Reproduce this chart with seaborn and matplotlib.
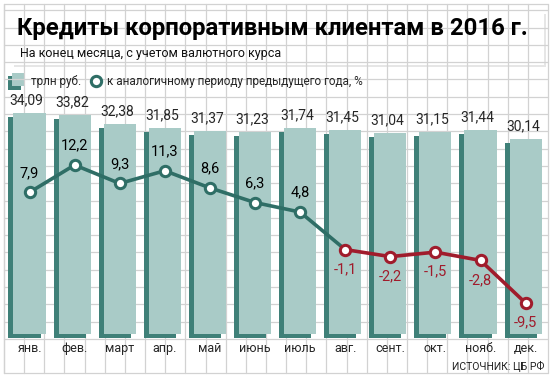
import matplotlib
matplotlib.use("Agg")
import matplotlib.pyplot as plt
from matplotlib.patches import Rectangle
import seaborn as sns

months = ["янв.", "фев.", "март", "апр.", "май", "июнь", "июль",
          "авг.", "сент.", "окт.", "нояб.", "дек."]
credits = [34.09, 33.82, 32.38, 31.85, 31.37, 31.23, 31.74,
           31.45, 31.04, 31.15, 31.44, 30.14]
growth = [7.9, 12.2, 9.3, 11.3, 8.6, 6.3, 4.8, -1.1, -2.2, -1.5, -2.8, -9.5]

face = "#a9cbc7"
side = "#3f8078"
teal = "#2f6e66"
red = "#a01c2c"
gridc = "#d2d2d2"

sns.set_style("white")
plt.rcParams["font.family"] = ["Roboto", "DejaVu Sans"]

W, H = 555, 380
fig = plt.figure(figsize=(W / 100, H / 100), dpi=100)

# background: graph paper + title box (pixel coords)
bg = fig.add_axes([0, 0, 1, 1])
bg.set_xlim(0, W)
bg.set_ylim(H, 0)
bg.axis("off")
bg.set_zorder(0)
x = 4.0
while x < 549:
    bg.plot([x, x], [4, 373], color=gridc, lw=0.9)
    x += 20.15
y = 339.0
while y > 4:
    bg.plot([4, 548], [y, y], color=gridc, lw=0.9)
    y -= 17.3
bg.plot([4, 4], [4, 373], color=gridc, lw=0.9)
bg.plot([4, 548], [4, 4], color=gridc, lw=0.9)
bg.plot([4, 548], [373, 373], color=gridc, lw=0.9)
bg.add_patch(Rectangle((14, 14), 532, 53, facecolor="#e6e6e6", edgecolor="none"))
bg.add_patch(Rectangle((12, 12), 532, 53, facecolor="white", edgecolor="none"))

bg.text(17, 29, "Кредиты корпоративным клиентам в 2016 г.", fontsize=17.2,
        fontweight="bold", va="center", ha="left", color="black")
bg.text(20, 54, "На конец месяца, с учетом валютного курса", fontsize=9,
        va="center", ha="left", color="#111111")

# legend
bg.add_patch(Rectangle((8, 76), 13, 14, facecolor=side, edgecolor="none", lw=0))
bg.add_patch(Rectangle((12, 73), 13, 13, facecolor=face, edgecolor="none", lw=0))
bg.text(31, 81, "трлн руб.", fontsize=8.5, va="center", ha="left")
bg.scatter([96], [81], s=55, color="white", edgecolor=teal, linewidth=2.2, zorder=5)
bg.text(107, 81, "к аналогичному периоду предыдущего года, %", fontsize=8.5,
        va="center", ha="left")
bg.text(545, 366, "ИСТОЧНИК: ЦБ РФ", fontsize=7.5, va="center", ha="right",
        color="#222222")

# bars
step = 45.1
c0 = 29.5
ppu = 6.48           # pixels per trillion
bot, top = 338, 100  # axes edges in pixels; bar base at 334
ax = fig.add_axes([0, (H - bot) / H, 1, (bot - top) / H])
ax.set_zorder(1)
ax.set_facecolor("none")
sns.barplot(x=months, y=credits, order=months, color=side, saturation=1,
            width=0.71, edgecolor="none", linewidth=0, ax=ax)
n_side = len(ax.patches)
for p in ax.patches[:n_side]:
    p.set_x(p.get_x() - 5 / step)
    p.set_y(-4 / ppu)
sns.barplot(x=months, y=credits, order=months, color=face, saturation=1,
            width=0.71, edgecolor="none", linewidth=0, ax=ax)
ax.set_xlim(-c0 / step, (W - c0) / step)
ax.set_ylim(-4 / ppu, (334 - top) / ppu)
for i, v in enumerate(credits):
    ax.annotate(f"{v:.2f}".replace(".", ","), (i, v), xytext=(-2, 4),
                textcoords="offset points", ha="center", va="bottom", fontsize=10)
sns.despine(ax=ax, left=True, bottom=True)
ax.set_yticks([])
ax.set_xlabel("")
ax.set_ylabel("")
ax.tick_params(axis="x", length=0, pad=3, labelsize=9)

# growth line
ax2 = ax.twinx()
ax2.set_zorder(2)
idx = list(range(len(months)))
sns.lineplot(x=idx[:8], y=growth[:8], color=teal, lw=2.6, ax=ax2)
sns.lineplot(x=idx[7:], y=growth[7:], color=red, lw=2.6, ax=ax2)
pos = [i for i in idx if growth[i] >= 0]
neg = [i for i in idx if growth[i] < 0]
sns.scatterplot(x=pos, y=[growth[i] for i in pos], s=55, color="white",
                edgecolor=teal, linewidth=2.2, zorder=5, ax=ax2)
sns.scatterplot(x=neg, y=[growth[i] for i in neg], s=55, color="white",
                edgecolor=red, linewidth=2.2, zorder=5, ax=ax2)
for i, v in enumerate(growth):
    lab = f"{v:.1f}".replace(".", ",")
    if v >= 0:
        ax2.annotate(lab, (i, v), xytext=(0, 9), textcoords="offset points",
                     ha="center", va="bottom", fontsize=10.5, color="black")
    else:
        ax2.annotate(lab, (i, v), xytext=(0, -9), textcoords="offset points",
                     ha="center", va="top", fontsize=10.5, color=red)
zero = 242.6
ppp = 6.36           # pixels per percent
ax2.set_ylim(-(bot - zero) / ppp, (zero - top) / ppp)
ax2.axis("off")

fig.savefig("out.png", dpi=100)
